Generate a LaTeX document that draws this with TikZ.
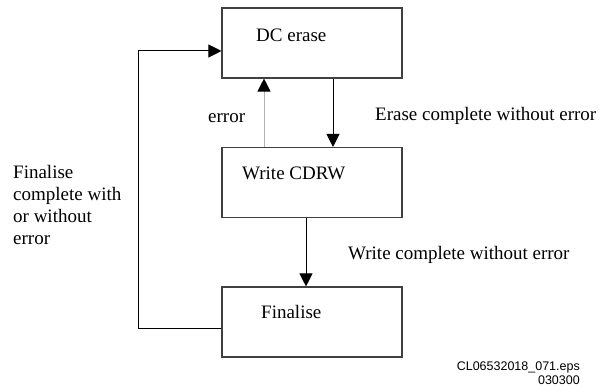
\documentclass[tikz,border=0pt]{standalone}
\usepackage{fontspec}
\setmainfont{Liberation Serif}
\newfontfamily\capfont{Liberation Sans}
\usetikzlibrary{arrows.meta}
\begin{document}
\begin{tikzpicture}[x=1pt,y=-1pt,
  box/.style={draw=black!75,line width=1.1pt,minimum width=180pt,minimum height=70pt,inner sep=0pt},
  txt/.style={anchor=west,inner sep=0pt,font=\fontsize{19}{22}\selectfont},
  conn/.style={draw=black,line width=1pt,-{Triangle[length=13pt,width=13pt]}},
  captxt/.style={inner sep=0pt,font=\capfont\fontsize{12.5}{14}\selectfont}]
\useasboundingbox (0,0) rectangle (615,387);
\node[box] (dc) at (312,43) {};
\node[box] (wr) at (312,182.5) {};
\node[box] (fin) at (312,322) {};
\node[txt] (tdc) at (256,35) {DC erase};
\node[txt] (twr) at (242,173) {Write CDRW};
\node[txt] (tfin) at (261,312) {Finalise};
\node[txt] (terr) at (208,118) {error};
\node[txt] (tec) at (375,116) {Erase complete without error};
\node[txt] (twc) at (348,255) {Write complete without error};
\node[txt,align=left] (tfc) at (13,205) {Finalise\\complete with\\or without\\error};
\node[captxt,anchor=east] (c1) at (580,367) {CL06532018\_071.eps};
\node[captxt,anchor=east] (c2) at (580,380) {030300};
\draw[conn] ([xshift=21pt]dc.south) -- ([xshift=21pt]wr.north);
\draw[conn,draw=black!30,-{Triangle[length=13pt,width=13pt,color=black]}] ([xshift=-48pt]wr.north) -- ([xshift=-48pt]dc.south);
\draw[conn] ([xshift=-6pt]wr.south) -- ([xshift=-6pt]fin.north);
\draw[conn] ([yshift=-6pt]fin.west) -| (138,51) -- ([yshift=-8pt]dc.west);
\end{tikzpicture}
\end{document}
